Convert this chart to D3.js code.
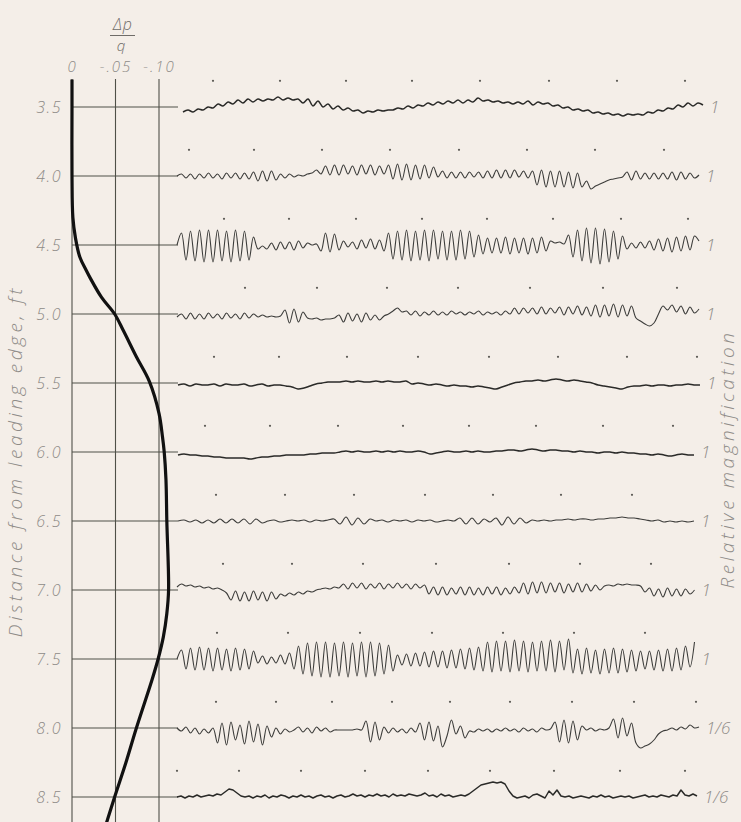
<!DOCTYPE html>
<html><head><meta charset="utf-8">
<script src="https://cdn.jsdelivr.net/npm/d3@7"></script>
<style>
html,body{margin:0;padding:0;background:#f4eee8;}
svg{display:block;}
text{font-family:"Open Sans","DejaVu Sans",sans-serif;font-style:italic;font-weight:300;fill:#8e8b87;}
</style></head><body>
<svg id="chart" width="741" height="822"></svg>
<script>
// ---------- data ----------
const distances = [3.5, 4.0, 4.5, 5.0, 5.5, 6.0, 6.5, 7.0, 7.5, 8.0, 8.5];
const distanceLabels = ["3.5", "4.0", "4.5", "5.0", "5.5", "6.0", "6.5", "7.0", "7.5", "8.0", "8.5"];
const pressureTicks = [0, -0.05, -0.10];
const pressureTickLabels = ["0", "-.05", "-.10"];
// pressure distribution (thick curve)
const curveDistance = [3.3, 3.5, 4.0, 4.3, 4.45, 4.587, 4.68, 4.74, 4.88, 5.0, 5.12, 5.31, 5.49, 5.72, 5.89, 6.0, 6.2, 6.5, 7.0, 7.17, 7.34, 7.5, 7.65, 8.0, 8.25, 8.5, 8.7];
const curveDeltaP = [0, 0, 0, -0.001, -0.004, -0.009, -0.016, -0.021, -0.034, -0.049, -0.059, -0.074, -0.089, -0.100, -0.104, -0.106, -0.108, -0.109, -0.111, -0.109, -0.105, -0.099, -0.092, -0.074, -0.062, -0.049, -0.039];
// relative magnification of each record
const magnification = ["1", "1", "1", "1", "1", "1", "1", "1", "1", "1/6", "1/6"];
// oscillograph records: start time, sample step (record time units), deflection samples
const traceStart = [6, 0, 0, 0, 1, 1, 1, 0, 0, 0, 0];
const traceStep = [5, 4.5, 4.5, 4.5, 6, 6, 6, 4.5, 4.5, 4.5, 4];
const trace35 = [-5,-3,-5,-2,-3,0,-1,3,1,5,3,7,4,8,5,8,6,8,7,10,7,9,7,8,4,8,1,6,0,3,-2,1,-3,-1,-4,-3,-6,-4,-5,-3,-4,-3,-3,-1,-2,1,-1,2,1,4,2,5,3,6,4,7,4,7,5,9,6,7,5,6,4,5,3,5,3,6,2,5,3,4,1,2,-1,0,-3,-2,-4,-3,-6,-5,-7,-6,-8,-7,-9,-7,-8,-7,-8,-5,-6,-3,-4,-1,-2,2,0,4,1,4,2];
const trace40 = [0,2,-2,2,-3,2,-2,3,-2,2,-3,3,-2,3,-3,3,-3,4,-5,5,-5,5,-4,2,-2,2,-1,1,0,2,3,6,2,10,1,11,1,11,2,10,1,11,2,11,1,10,2,11,-3,12,-4,12,-4,11,-3,11,-2,9,-1,5,-2,4,-2,4,-2,4,-1,4,-2,5,-2,6,-2,6,-2,6,-1,5,-2,5,-9,6,-11,5,-11,5,-11,4,-12,3,-11,-5,-13,-10,-8,-6,-4,-3,-2,-1,4,-4,5,-3,3,-3,3,-3,3,-3,4,-4,4,-3,3,-2,1];
const trace45 = [0,12,-15,14,-16,15,-17,15,-17,15,-16,14,-17,15,-16,14,-15,8,-4,-1,-4,2,-5,3,-4,3,-5,4,-3,2,0,1,-6,12,-7,11,-5,4,-2,3,-4,5,-3,6,-4,5,-6,12,-14,14,-15,15,-16,14,-15,15,-16,15,-14,14,-15,14,-15,15,-14,14,-12,10,-9,7,-8,7,-8,8,-9,7,-8,7,-9,7,-8,8,-6,4,2,3,1,10,-12,15,-16,17,-18,17,-19,16,-17,14,-14,9,-4,2,-3,3,-3,4,-5,6,-6,7,-7,8,-6,9,-5,9,4];
const trace50 = [-3,0,-5,1,-5,0,-5,1,-4,0,-5,1,-4,0,-5,1,-4,0,-3,-1,-3,-2,-3,-2,4,-9,5,-8,2,-4,-5,-4,-6,-5,-5,-4,-1,-8,1,-7,0,-8,1,-6,-1,-6,-2,0,3,6,2,3,-1,3,-2,2,-1,3,-1,2,-1,3,0,2,-1,2,0,3,-1,2,0,2,-1,3,0,6,0,6,1,6,0,7,0,6,1,7,-1,7,0,8,-1,7,-2,9,-3,9,-2,10,-3,9,-2,8,-4,-7,-10,-12,-9,0,8,4,9,2,8,0,7,1,5];
const trace55 = [-2,-1,-3,-1,-2,-2,-1,-3,-1,-2,-2,-1,-3,-2,-1,-3,-2,-2,-3,-4,-6,-5,-3,-1,0,1,1,1,2,1,2,1,1,2,1,2,1,1,2,-1,0,-1,-2,-1,-2,-3,-2,-3,-3,-4,-3,-4,-5,-6,-4,-2,0,1,2,2,3,2,3,4,3,2,3,2,1,0,-2,-3,-4,-5,-6,-4,-3,-3,-2,-3,-2,-2,-3,-2,-2,-1,-2,-2];
const trace60 = [-3,-2,-3,-3,-4,-4,-5,-5,-6,-6,-6,-6,-7,-6,-5,-5,-4,-4,-3,-3,-3,-3,-2,-2,-1,-1,-1,0,1,0,1,0,0,1,0,1,0,1,0,0,1,0,-2,-1,0,1,0,0,1,0,1,0,0,1,1,2,2,1,2,3,2,1,2,2,1,1,0,1,0,0,-1,0,0,-1,0,-1,-1,-2,-2,-3,-2,-3,-4,-3,-2,-3,-3];
const trace65 = [0,1,-1,1,-2,1,-2,2,-2,2,-2,2,-3,2,-2,0,1,-1,0,1,0,1,-1,1,0,1,2,-3,4,-4,3,-3,2,0,1,-1,1,0,1,-1,1,0,1,-1,0,1,0,3,-3,3,-3,2,-1,3,-4,4,-3,3,-2,1,0,1,0,1,1,2,1,2,2,1,2,2,3,3,4,3,3,2,1,0,1,-1,0,-1,0,-1,0];
const trace70 = [3,6,4,5,3,4,2,3,1,2,0,-3,-10,-1,-11,-2,-11,-1,-10,-2,-11,-2,-9,-4,-6,-3,-5,-2,-4,-1,-2,0,1,2,1,3,2,6,1,7,2,7,1,6,2,7,1,6,2,7,2,6,1,6,2,5,-4,3,-5,3,-5,2,-4,3,-5,3,-5,2,-5,3,-4,3,-5,2,-4,3,-3,7,-4,8,-3,8,-3,7,-2,7,-3,6,-2,7,-2,6,-1,5,0,4,5,4,6,5,6,5,5,4,-2,2,-6,1,-7,2,-6,1,-6,1,-4,0];
const trace75 = [0,9,-10,11,-11,12,-11,11,-12,11,-11,10,-12,11,-11,10,-10,8,-4,3,-5,2,-4,4,-5,6,-10,13,-15,16,-17,17,-18,17,-18,16,-17,17,-18,16,-17,17,-18,17,-17,16,-15,14,-12,4,-6,5,-7,6,-7,7,-8,8,-8,8,-9,9,-9,10,-10,11,-11,12,-12,17,-13,18,-12,18,-13,19,-12,18,-13,17,-12,18,-12,19,-13,18,-11,20,-14,10,-15,11,-14,9,-15,10,-14,11,-14,10,-13,9,-12,8,-10,8,-11,9,-12,10,-12,11,-11,13,-8,17];
const trace80 = [0,-3,1,-5,0,-6,-1,-5,0,-15,5,-17,6,-12,3,-16,7,-14,4,-17,2,-9,0,-6,-1,-4,-2,1,-4,0,-5,1,-3,0,-4,-2,-2,-2,-2,-2,-1,-2,7,-14,6,-12,1,-5,0,-4,-1,-5,0,-4,5,-12,6,-13,2,-19,-8,8,-6,2,-10,-3,-4,-1,-3,-1,-4,-1,-3,0,-3,-1,-4,0,-3,-1,-4,0,-2,-1,6,-14,8,-15,7,-12,2,-2,0,-3,-1,-2,0,9,-10,10,-8,5,-15,-20,-18,-16,-12,-6,-3,-2,0,-2,1,-1,3,0,1];
const trace85 = [0,1,-1,1,0,2,0,1,2,1,3,2,5,8,7,4,1,0,1,-1,1,0,2,-1,1,0,2,1,-1,1,0,2,0,1,-1,1,2,0,1,-1,1,2,0,1,3,1,2,0,2,1,3,1,2,0,3,1,2,1,3,2,1,2,4,1,2,0,3,1,2,0,1,2,1,3,6,9,12,13,14,15,14,15,13,6,1,-1,0,1,-1,2,3,1,-1,6,2,7,1,0,1,-1,0,1,0,-1,1,0,2,0,1,-1,0,1,0,1,-1,0,1,2,0,1,0,2,1,0,2,1,7,2,1,3,1];
const traces = [trace35, trace40, trace45, trace50, trace55, trace60, trace65, trace70, trace75, trace80, trace85];
// timing marks (record time units)
const dots35 = [36,103,169,235,303,372,440,508];
const dots40 = [12,77,145,213,282,350,418,487];
const dots45 = [47,112,179,245,310,376,444,511];
const dots50 = [68,140,210,281,353,426,500];
const dots55 = [37,102,170,241,312,381,450,520];
const dots60 = [28,93,161,226,292,359,426,496];
const dots65 = [39,108,177,248,316,384,455];
const dots70 = [46,115,186,259,332,403,474];
const dots75 = [40,111,183,255,326,397,468];
const dots80 = [39,99,155,215,273,333,395,457,519];
const dots85 = [0,62,124,188,251,313,377,443,508];
const dotRows = [dots35, dots40, dots45, dots50, dots55, dots60, dots65, dots70, dots75, dots80, dots85];

// ---------- drawing ----------
const svg = d3.select("#chart");
const W = 741, H = 822;
const yScale = d3.scaleLinear().domain([3.5, 8.5]).range([107, 797]);
const xScale = d3.scaleLinear().domain([0, -0.10]).range([72, 159]);
const tScale = d3.scaleLinear().domain([0, 527]).range([177, 704]);
const defl = d3.scaleLinear().domain([-20, 20]).range([20, -20]);
const gridColor = "#4f5048";
const labelFont = '"Open Sans","DejaVu Sans",sans-serif';

// vertical grid lines
svg.append("g").selectAll("line").data(pressureTicks).join("line")
  .attr("x1", d => xScale(d)).attr("x2", d => xScale(d))
  .attr("y1", 79).attr("y2", H)
  .attr("stroke", gridColor).attr("stroke-width", 1.1);

// horizontal grid lines
svg.append("g").selectAll("line").data(distances).join("line")
  .attr("x1", xScale(0)).attr("x2", 178)
  .attr("y1", d => yScale(d)).attr("y2", d => yScale(d))
  .attr("stroke", gridColor).attr("stroke-width", 1.2);

// left axis labels
const yAxis = d3.axisLeft(yScale).tickValues(distances)
  .tickFormat((d, i) => distanceLabels[i]).tickSize(0).tickPadding(10);
const gy = svg.append("g").attr("transform", `translate(${xScale(0)},0)`).call(yAxis);
gy.select(".domain").remove();
gy.selectAll("text").style("font-size", "16px").attr("fill", "#8e8b87")
  .style("letter-spacing", "1.5px")
  .style("font-family", labelFont).style("font-style", "italic").style("font-weight", 300);

// top axis labels
const xAxis = d3.axisTop(xScale).tickValues(pressureTicks)
  .tickFormat((d, i) => pressureTickLabels[i]).tickSize(0).tickPadding(6);
const gx = svg.append("g").attr("transform", "translate(0,78)").call(xAxis);
gx.select(".domain").remove();
gx.selectAll("text").style("font-size", "15px").attr("fill", "#8e8b87")
  .style("letter-spacing", "2px")
  .style("font-family", labelFont).style("font-style", "italic").style("font-weight", 300);

// Δp / q title
svg.append("text").attr("x", 123).attr("y", 30).attr("text-anchor", "middle")
  .style("font-size", "16px").style("letter-spacing", "1px").style("fill", "#6f6c68").text("Δp");
svg.append("line").attr("x1", 110).attr("x2", 135).attr("y1", 35.5).attr("y2", 35.5)
  .attr("stroke", "#6f6c68").attr("stroke-width", 1);
svg.append("text").attr("x", 121).attr("y", 51).attr("text-anchor", "middle")
  .style("font-size", "15px").style("fill", "#6f6c68").text("q");

// axis titles
svg.append("text").attr("transform", "translate(22,461) rotate(-90)")
  .attr("text-anchor", "middle").style("font-size", "19px").style("letter-spacing", "3.6px")
  .text("Distance from leading edge, ft");
svg.append("text").attr("transform", "translate(734,459) rotate(-90)")
  .attr("text-anchor", "middle").style("font-size", "19px").style("letter-spacing", "3.6px")
  .text("Relative magnification");

// pressure curve
const curveData = curveDistance.map((d, i) => [curveDeltaP[i], d]);
svg.append("path").datum(curveData)
  .attr("d", d3.line().x(d => xScale(d[0])).y(d => yScale(d[1])).curve(d3.curveCatmullRom))
  .attr("fill", "none").attr("stroke", "#111").attr("stroke-width", 3.2);

// timing dots
dotRows.forEach((row, r) => {
  svg.append("g").selectAll("circle").data(row).join("circle")
    .attr("cx", t => tScale(t)).attr("cy", yScale(distances[r] - 0.19))
    .attr("r", 1.1).attr("fill", "#5a5854");
});

// traces
traces.forEach((tr, r) => {
  const base = yScale(distances[r]);
  const line = d3.line()
    .x((v, i) => tScale(traceStart[r] + traceStep[r] * i))
    .y(v => base + defl(v))
    .curve(r === 10 ? d3.curveLinear : d3.curveCatmullRom);
  const bold = (r === 0 || r === 5 || r === 10 || r === 4);
  svg.append("path").datum(tr).attr("d", line)
    .attr("fill", "none").attr("stroke", bold ? "#2a2a28" : "#3c3c3a")
    .attr("stroke-width", bold ? 1.5 : 1.1).attr("stroke-linejoin", "round");
  const endT = traceStart[r] + traceStep[r] * (tr.length - 1);
  svg.append("text").attr("x", tScale(endT) + 7).attr("y", base + 6)
    .style("font-size", "17px").text(magnification[r]);
});
</script>
</body></html>
